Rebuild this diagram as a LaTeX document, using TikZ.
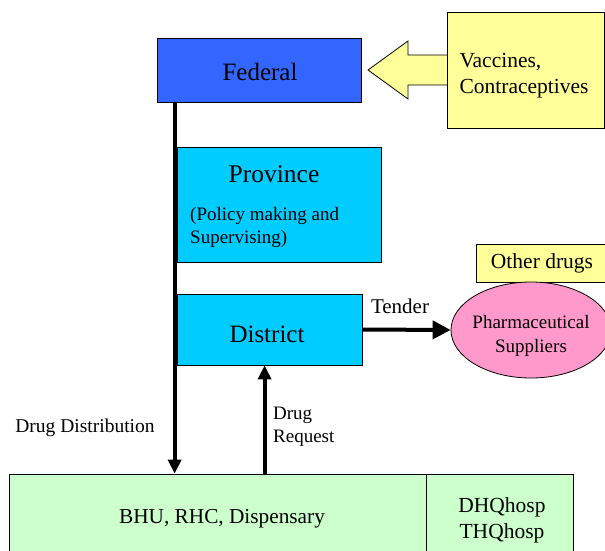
\documentclass[tikz,border=0pt]{standalone}
\usepackage{fontspec}
\setmainfont{Liberation Serif}
\usetikzlibrary{arrows.meta,shapes.geometric,calc}

\definecolor{fedblue}{HTML}{3366FF}
\definecolor{levelcyan}{HTML}{00CCFF}
\definecolor{noteyellow}{HTML}{FFFF99}
\definecolor{supplierpink}{HTML}{FF99CC}
\definecolor{facilitygreen}{HTML}{CCFFCC}

\tikzset{
  box/.style={draw=black, line width=0.8pt, inner sep=0pt, anchor=center},
  flow/.style={line width=4pt, -{Triangle[width=13pt,length=14pt]}},
  txt/.style={inner sep=0pt, anchor=center}
}

\begin{document}
\begin{tikzpicture}[x=1pt, y=-1pt]
  \clip (0,0) rectangle (605,551);
  \fill[white] (0,0) rectangle (605,551);

  % administrative levels
  \node[box, fill=fedblue, minimum width=204pt, minimum height=64pt] (fed) at (259,70) {};
  \node[txt, font=\fontsize{25}{28}\selectfont] (fedname) at (260,72) {Federal};
  \node[box, fill=levelcyan, minimum width=204pt, minimum height=115pt] (prov) at (279,204.5) {};
  \node[txt, font=\fontsize{25.5}{28}\selectfont] (provname) at (274,174) {Province};
  \node[txt, anchor=west, align=left, font=\fontsize{19}{23}\selectfont] (provrole) at (190,227)
       {(Policy making and\\Supervising)};
  \node[box, fill=levelcyan, minimum width=185pt, minimum height=71pt] (dist) at (269.5,329.5) {};
  \node[txt, font=\fontsize{25}{28}\selectfont] (distname) at (267,334) {District};

  % supply sources
  \draw[line width=0.8pt, fill=noteyellow]
    (368,70) -- (408,41) -- (408,55) -- (450,55) -- (450,85) -- (408,85) -- (408,99) -- cycle;
  \node[box, fill=noteyellow, minimum width=157pt, minimum height=116pt] (vacc) at (525.5,70) {};
  \node[txt, align=left, font=\fontsize{21.5}{26}\selectfont] (vacctext) at (524,76)
       {Vaccines,\\Contraceptives};
  \node[box, fill=noteyellow, minimum width=132pt, minimum height=38pt,
        font=\fontsize{21.5}{24}\selectfont] (other) at (542,263) {Other drugs};
  \node[box, ellipse, fill=supplierpink, minimum width=160pt, minimum height=96pt] (pharm) at (531,330) {};
  \node[txt, align=center, font=\fontsize{19}{23.5}\selectfont] (pharmtext) at (531,336)
       {Pharmaceutical\\Suppliers};

  % health facilities
  \node[box, fill=facilitygreen, minimum width=417pt, minimum height=88pt] (bhu) at (217.5,518) {};
  \node[txt, font=\fontsize{21.3}{24}\selectfont] (bhutext) at (222,519) {BHU, RHC, Dispensary};
  \node[box, fill=facilitygreen, minimum width=147pt, minimum height=88pt] (dhq) at (499.5,518) {};
  \node[txt, align=center, font=\fontsize{21.5}{26}\selectfont] (dhqtext) at (502,520)
       {DHQhosp\\THQhosp};

  % flows
  \draw[flow] ($(fed.south west)+(18,0)$) coordinate (dd) -- (dd |- bhu.north);
  \path ($(dist.south west)+(88,0)$) coordinate (rq);
  \draw[flow] (rq |- bhu.north) -- (rq);
  \draw[line width=4pt, -{Triangle[width=18pt,length=18pt]}] (dist.east) -- (pharm.west);

  % flow labels
  \node[txt, font=\fontsize{21}{24}\selectfont] (tender) at (400,306) {Tender};
  \node[txt, font=\fontsize{19.5}{22}\selectfont] (distlabel) at (85,428) {Drug Distribution};
  \node[txt, anchor=west, align=left, font=\fontsize{19}{23}\selectfont] (reqlabel) at (273,427)
       {Drug\\Request};
\end{tikzpicture}
\end{document}
